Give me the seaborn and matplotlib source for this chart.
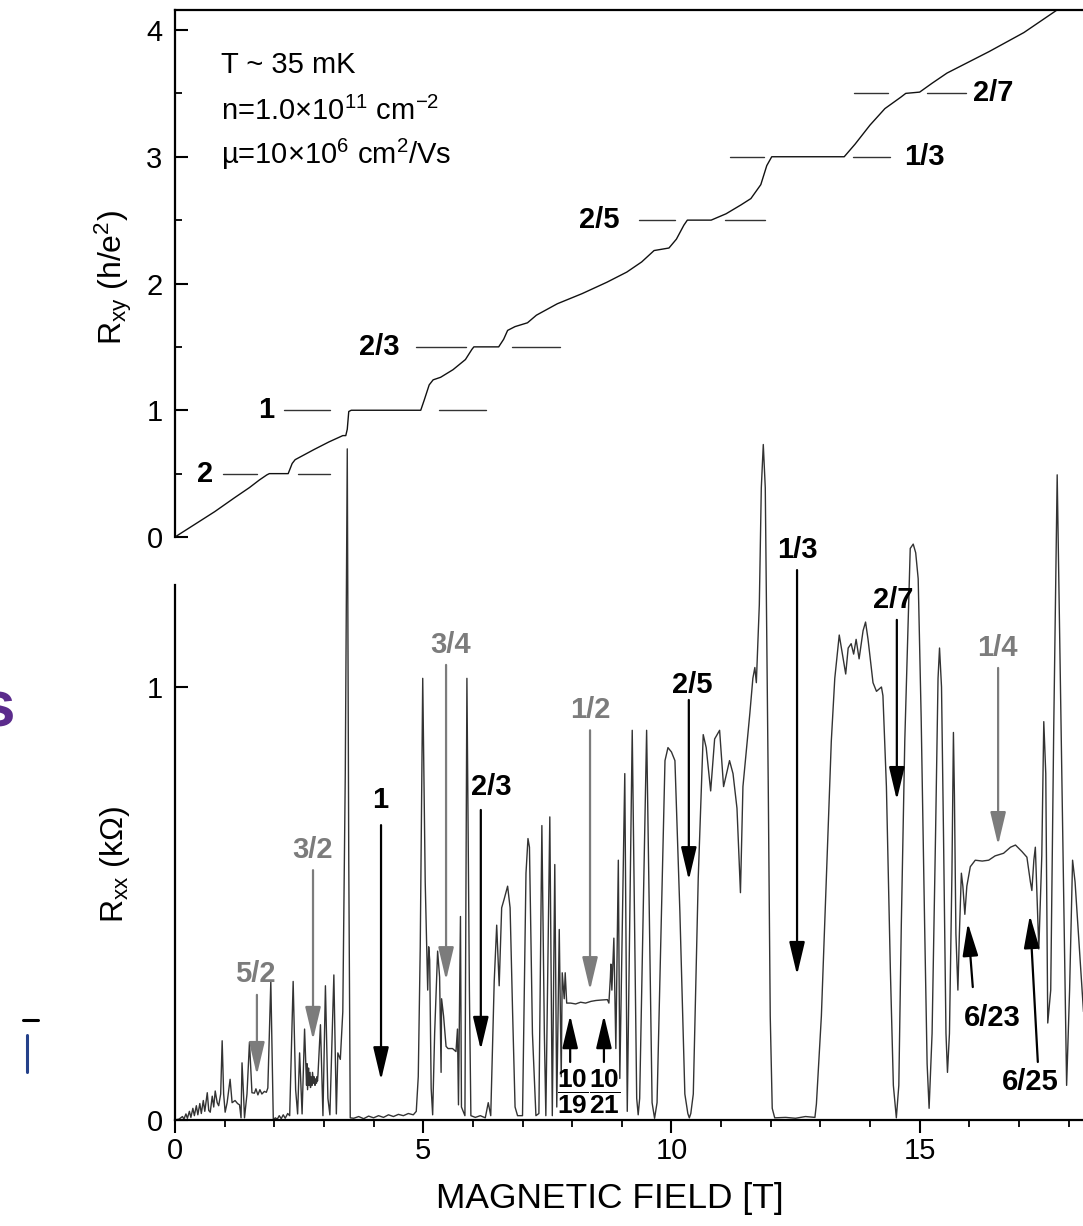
import numpy as np
import pandas as pd
import seaborn as sns
import matplotlib.pyplot as plt
from matplotlib.ticker import FixedLocator
from matplotlib.lines import Line2D

# --------------------------------------------------------------------------- #
# Data                                                    #
# --------------------------------------------------------------------------- #
# Hall resistance R_xy (h/e^2) vs field (T)
rxy_field = [0.00, 0.40, 0.80, 1.20, 1.50, 1.70, 1.85, 1.90, 2.28, 2.36, 2.42,
             2.80, 3.10, 3.38, 3.44, 3.47, 3.50, 3.55, 4.95, 5.02, 5.12, 5.20,
             5.35, 5.60, 5.85, 5.98, 6.02, 6.52, 6.62, 6.70, 6.85, 7.10, 7.28,
             7.70, 8.20, 8.70, 9.10, 9.40, 9.65, 9.95, 10.10, 10.25, 10.32,
             10.80, 11.10, 11.40, 11.60, 11.80, 11.92, 12.02, 13.48, 13.70,
             14.00, 14.30, 14.62, 14.72, 15.00, 15.25, 15.55, 16.00, 16.40,
             17.10, 17.70, 18.30]
rxy_value = [0.00, 0.10, 0.20, 0.31, 0.39, 0.45, 0.49, 0.50, 0.50, 0.58, 0.61,
             0.69, 0.75, 0.80, 0.80, 0.85, 0.99, 1.00, 1.00, 1.08, 1.20, 1.24,
             1.26, 1.32, 1.40, 1.48, 1.50, 1.50, 1.56, 1.63, 1.66, 1.69, 1.75,
             1.84, 1.92, 2.01, 2.09, 2.17, 2.26, 2.28, 2.35, 2.46, 2.50,
             2.50, 2.55, 2.62, 2.67, 2.78, 2.93, 3.00, 3.00, 3.10,
             3.25, 3.38, 3.47, 3.50, 3.51, 3.58, 3.66, 3.75, 3.83,
             3.98, 4.14, 4.30]

# Longitudinal resistance R_xx (kOhm) vs field (T)
rxx_field = [
    0.00, 0.08, 0.15, 0.18, 0.22, 0.25, 0.29, 0.32, 0.36, 0.39, 0.43, 0.46,
    0.50, 0.53, 0.57, 0.60, 0.65, 0.68, 0.71, 0.75, 0.78, 0.81, 0.85, 0.88,
    0.92, 0.95, 0.98, 1.01, 1.05, 1.11, 1.15, 1.21, 1.26, 1.30, 1.33, 1.35,
    1.38, 1.40, 1.45, 1.50, 1.55, 1.60, 1.63, 1.67, 1.71, 1.75, 1.80, 1.84,
    1.87, 1.93, 1.98, 2.02, 2.06, 2.10, 2.14, 2.18, 2.22, 2.27, 2.31, 2.38,
    2.43, 2.47, 2.51, 2.56, 2.61, 2.65, 2.66, 2.67, 2.69, 2.70, 2.72, 2.73,
    2.74, 2.76, 2.77, 2.79, 2.80, 2.82, 2.83, 2.85, 2.86, 2.87, 2.88, 2.93,
    2.98, 3.03, 3.08, 3.12, 3.20, 3.25, 3.28, 3.33, 3.38, 3.43, 3.47, 3.50,
    3.53, 3.60, 3.70, 3.80, 3.90, 4.00, 4.10, 4.20, 4.30, 4.40, 4.50, 4.60,
    4.70, 4.80, 4.86, 4.90, 4.94, 4.99, 5.04, 5.09, 5.11, 5.13, 5.16, 5.19,
    5.23, 5.29, 5.33, 5.36, 5.37, 5.41, 5.46, 5.50, 5.59, 5.66, 5.69, 5.71,
    5.75, 5.77, 5.84, 5.88, 5.93, 5.96, 6.05, 6.15, 6.25, 6.31, 6.36, 6.43,
    6.48, 6.53, 6.58, 6.63, 6.70, 6.75, 6.80, 6.85, 6.90, 7.00, 7.07, 7.11,
    7.14, 7.20, 7.27, 7.33, 7.39, 7.44, 7.47, 7.55, 7.60, 7.65, 7.69, 7.74,
    7.78, 7.80, 7.84, 7.86, 7.89, 7.97, 8.07, 8.17, 8.27, 8.38, 8.48, 8.58,
    8.71, 8.74, 8.77, 8.78, 8.80, 8.84, 8.88, 8.93, 8.96, 9.06, 9.11, 9.21,
    9.30, 9.33, 9.36, 9.50, 9.61, 9.66, 9.71, 9.87, 9.93, 10.00, 10.07,
    10.17, 10.27, 10.33, 10.36, 10.39, 10.44, 10.54, 10.64, 10.70, 10.79,
    10.87, 10.97, 11.05, 11.17, 11.24, 11.32, 11.39, 11.44, 11.58, 11.64,
    11.68, 11.71, 11.77, 11.81, 11.85, 11.89, 11.95, 11.99, 12.03, 12.08,
    12.30, 12.50, 12.70, 12.89, 12.92, 13.02, 13.12, 13.22, 13.29, 13.38,
    13.46, 13.51, 13.56, 13.62, 13.67, 13.72, 13.78, 13.86, 13.91, 13.96,
    14.06, 14.13, 14.23, 14.26, 14.33, 14.41, 14.47, 14.53, 14.58, 14.63,
    14.70, 14.77, 14.81, 14.87, 14.92, 14.97, 15.03, 15.10, 15.15, 15.19,
    15.25, 15.32, 15.37, 15.40, 15.44, 15.48, 15.53, 15.56, 15.60, 15.65,
    15.68, 15.70, 15.73, 15.77, 15.80, 15.84, 15.87, 15.91, 15.95, 16.02,
    16.12, 16.26, 16.39, 16.52, 16.69, 16.83, 16.93, 17.06, 17.16, 17.23,
    17.26, 17.30, 17.33, 17.40, 17.46, 17.50, 17.54, 17.58, 17.64, 17.70,
    17.77, 17.85, 17.96, 18.02, 18.08, 18.13, 18.30]
rxx_value = [
    0.000, 0.002, 0.008, 0.002, 0.014, 0.004, 0.020, 0.006, 0.027, 0.010, 0.033, 0.012,
    0.038, 0.015, 0.045, 0.020, 0.063, 0.022, 0.018, 0.055, 0.030, 0.067, 0.040, 0.033,
    0.060, 0.183, 0.060, 0.018, 0.040, 0.094, 0.040, 0.045, 0.038, 0.035, 0.005, 0.132,
    0.060, 0.005, 0.060, 0.180, 0.063, 0.062, 0.072, 0.058, 0.070, 0.060, 0.066, 0.064,
    0.074, 0.320, 0.000, 0.005, 0.002, 0.010, 0.003, 0.012, 0.004, 0.015, 0.010, 0.320,
    0.070, 0.014, 0.155, 0.014, 0.210, 0.080, 0.130, 0.070, 0.120, 0.080, 0.110, 0.075,
    0.100, 0.080, 0.110, 0.085, 0.100, 0.080, 0.095, 0.085, 0.100, 0.090, 0.105, 0.220,
    0.010, 0.310, 0.050, 0.012, 0.335, 0.014, 0.155, 0.140, 0.250, 0.800, 1.550, 0.600,
    0.005, 0.004, 0.008, 0.003, 0.009, 0.005, 0.010, 0.006, 0.012, 0.008, 0.013, 0.010,
    0.015, 0.012, 0.020, 0.100, 0.400, 1.020, 0.550, 0.300, 0.400, 0.370, 0.073, 0.012,
    0.200, 0.390, 0.330, 0.110, 0.280, 0.240, 0.170, 0.165, 0.165, 0.158, 0.210, 0.035,
    0.470, 0.030, 0.010, 1.020, 0.300, 0.010, 0.006, 0.010, 0.005, 0.040, 0.010, 0.320,
    0.450, 0.310, 0.490, 0.510, 0.540, 0.490, 0.250, 0.030, 0.010, 0.010, 0.570, 0.650,
    0.630, 0.200, 0.010, 0.015, 0.680, 0.200, 0.010, 0.700, 0.010, 0.590, 0.030, 0.440,
    0.100, 0.340, 0.280, 0.340, 0.270, 0.270, 0.268, 0.272, 0.270, 0.274, 0.276, 0.277,
    0.278, 0.270, 0.330, 0.360, 0.300, 0.420, 0.165, 0.600, 0.096, 0.800, 0.020, 0.900,
    0.050, 0.012, 0.050, 0.900, 0.040, 0.004, 0.040, 0.830, 0.860, 0.850, 0.830,
    0.480, 0.060, 0.015, 0.005, 0.015, 0.060, 0.560, 0.890, 0.860, 0.760,
    0.880, 0.900, 0.770, 0.830, 0.800, 0.720, 0.525, 0.770, 0.940, 1.020,
    1.045, 1.010, 1.190, 1.460, 1.560, 1.460, 0.770, 0.240, 0.027, 0.005,
    0.006, 0.004, 0.008, 0.006, 0.037, 0.240, 0.557, 0.875, 1.020, 1.120,
    1.065, 1.030, 1.090, 1.100, 1.076, 1.110, 1.065, 1.130, 1.150, 1.110,
    1.010, 0.990, 1.000, 0.980, 0.770, 0.345, 0.080, 0.005, 0.080, 0.450,
    0.875, 1.160, 1.320, 1.330, 1.310, 1.250, 0.930, 0.450, 0.130, 0.027,
    0.200, 0.660, 1.020, 1.090, 1.000, 0.660, 0.200, 0.110, 0.200, 0.570,
    0.895, 0.750, 0.430, 0.300, 0.430, 0.570, 0.540, 0.475, 0.540, 0.585,
    0.600, 0.598, 0.600, 0.610, 0.616, 0.630, 0.635, 0.620, 0.607, 0.550,
    0.530, 0.600, 0.630, 0.395, 0.610, 0.920, 0.800, 0.224, 0.300, 0.900,
    1.490, 0.900, 0.080, 0.300, 0.600, 0.550, 0.250]

# Rxy plateau guide marks: level, label, label field, left/right segments
plateau_level = [0.5, 1.0, 1.5, 2.5, 3.0, 3.5]
plateau_label = ['2', '1', '2/3', '2/5', '1/3', '2/7']
plateau_label_field = [0.60, 1.83, 4.11, 8.54, 15.09, 16.48]
plateau_left = [(0.97, 1.66), (2.20, 3.12), (4.85, 5.86), (9.35, 10.07), (11.18, 11.86), (13.68, 14.36)]
plateau_right = [(2.48, 3.12), (5.32, 6.26), (6.79, 7.75), (11.08, 11.88), (13.66, 14.40), (15.15, 15.93)]

# Rxx filling-factor arrows: label, label position, arrow tail -> tip, grey?
arrow_label = ['5/2', '3/2', '1', '3/4', '2/3', '1/2', '2/5', '1/3', '2/7', '1/4', '6/23', '6/25']
arrow_label_pos = [(1.61, 0.337), (2.78, 0.624), (4.13, 0.739), (5.56, 1.097), (6.38, 0.769),
                   (8.36, 0.947), (10.41, 1.005), (12.53, 1.316), (14.46, 1.200), (16.56, 1.090),
                   (16.46, 0.236), (17.22, 0.088)]
arrow_tail = [(1.65, 0.289), (2.78, 0.577), (4.15, 0.681), (5.46, 1.051), (6.16, 0.716),
              (8.36, 0.900), (10.35, 0.970), (12.53, 1.270), (14.54, 1.155), (16.58, 1.044),
              (16.07, 0.307), (17.38, 0.134)]
arrow_tip = [(1.65, 0.104), (2.78, 0.185), (4.15, 0.092), (5.46, 0.323), (6.16, 0.162),
             (8.36, 0.300), (10.35, 0.554), (12.53, 0.335), (14.54, 0.739), (16.58, 0.635),
             (15.97, 0.455), (17.22, 0.473)]
arrow_grey = [True, True, False, True, False, True, False, False, False, True, False, False]

# the two small up-arrows with stacked fractions
frac_num = ['10', '10']
frac_den = ['19', '21']
frac_field = [7.96, 8.64]
frac_label_field = [8.02, 8.66]

xy_ticks = [0, 1, 2, 3, 4]
xy_minor = [0.5, 1.5, 2.5, 3.5]
xx_ticks = [0, 1]
b_ticks = [0, 5, 10, 15]

# --------------------------------------------------------------------------- #
# Style                                                                       #
# --------------------------------------------------------------------------- #
sns.set_theme(style='ticks')
plt.rcParams['font.family'] = ['Liberation Sans', 'DejaVu Sans']
plt.rcParams['mathtext.fontset'] = 'custom'
plt.rcParams['mathtext.rm'] = 'Liberation Sans'
plt.rcParams['mathtext.it'] = 'Liberation Sans:italic'
plt.rcParams['mathtext.bf'] = 'Liberation Sans:bold'
plt.rcParams['axes.linewidth'] = 1.6
for key in ('text.color', 'axes.edgecolor', 'axes.labelcolor', 'xtick.color', 'ytick.color'):
    plt.rcParams[key] = 'black'

GREY = '#7c7c7c'
B_MAX = 18.29

fig = plt.figure(figsize=(10.83, 12.26), dpi=100)
pos = [175 / 1083, 1 - 1120 / 1226, 908 / 1083, 1110 / 1226]
ax_xx = fig.add_axes(pos)
ax_xy = fig.add_axes(pos)
ax_xy.patch.set_visible(False)

xx_df = pd.DataFrame({'B': rxx_field, 'R': rxx_value})
xy_df = pd.DataFrame({'B': rxy_field, 'R': rxy_value})

sns.lineplot(data=xx_df, x='B', y='R', ax=ax_xx, color='#333333', lw=1.0,
             sort=False, estimator=None)
sns.lineplot(data=xy_df, x='B', y='R', ax=ax_xy, color='#111111', lw=1.0,
             sort=False, estimator=None)

# --------------------------------------------------------------------------- #
# Axes                                                                        #
# --------------------------------------------------------------------------- #
for ax in (ax_xx, ax_xy):
    ax.set_xlim(0, B_MAX)
    ax.set_xlabel('')
    ax.set_ylabel('')
    ax.spines['right'].set_visible(False)

ax_xx.set_ylim(0, 2.5635)
ax_xy.set_ylim(-4.5996, 4.1578)

ax_xx.spines['top'].set_visible(False)
ax_xx.spines['left'].set_bounds(0, 1.2356)
ax_xy.spines['bottom'].set_visible(False)
ax_xy.spines['left'].set_bounds(0, 4.1578)

ax_xx.set_xticks(b_ticks)
ax_xx.xaxis.set_minor_locator(FixedLocator([b for b in range(1, 19) if b % 5]))
ax_xx.set_yticks(xx_ticks)
ax_xx.yaxis.set_minor_locator(FixedLocator([]))
ax_xx.tick_params(axis='x', which='major', direction='out', length=9.5, width=1.5,
                  labelsize=21, pad=3)
ax_xx.tick_params(axis='x', which='minor', direction='out', length=5, width=1.3)
ax_xx.tick_params(axis='y', which='major', direction='in', length=9.5, width=1.5,
                  labelsize=21, pad=9)

ax_xy.set_yticks(xy_ticks)
ax_xy.yaxis.set_minor_locator(FixedLocator(xy_minor))
ax_xy.tick_params(axis='x', which='both', bottom=False, top=False, labelbottom=False)
ax_xy.tick_params(axis='y', which='major', direction='in', length=9.5, width=1.5,
                  labelsize=21, pad=9)
ax_xy.tick_params(axis='y', which='minor', direction='in', length=5, width=1.3)

ax_xy.text(-0.068, 0.7586, r'R$_{\mathregular{xy}}$ (h/e$^{\mathregular{2}}$)',
           transform=ax_xy.transAxes, rotation=90, ha='center', va='center', fontsize=23)
ax_xx.text(-0.066, 0.2297, r'R$_{\mathregular{xx}}$ (k$\Omega$)',
           transform=ax_xx.transAxes, rotation=90, ha='center', va='center', fontsize=23)
ax_xx.text(0.479, -0.0703, 'MAGNETIC FIELD [T]', transform=ax_xx.transAxes,
           ha='center', va='center', fontsize=25.5)

# sample parameters
ax_xy.text(0.93, 3.66, 'T ~ 35 mK', fontsize=21, va='baseline')
ax_xy.text(0.93, 3.29, r'n=1.0$\times$10$^{\mathregular{11}}$ cm$^{\mathregular{-2}}$',
           fontsize=21, va='baseline')
ax_xy.text(0.93, 2.94, '\u00b5=10' + r'$\times$10$^{\mathregular{6}}$ cm$^{\mathregular{2}}$/Vs',
           fontsize=21, va='baseline')

# --------------------------------------------------------------------------- #
# Plateau guides on Rxy                                                       #
# --------------------------------------------------------------------------- #
for lev, lab, lx, left, right in zip(plateau_level, plateau_label, plateau_label_field,
                                     plateau_left, plateau_right):
    ax_xy.plot(left, [lev, lev], color='#333333', lw=1.0)
    ax_xy.plot(right, [lev, lev], color='#333333', lw=1.0)
    ax_xy.text(lx, lev, lab, fontsize=21, fontweight='bold', ha='center', va='center')

# --------------------------------------------------------------------------- #
# Arrows on Rxx                                                               #
# --------------------------------------------------------------------------- #
def draw_arrow(ax, tail, tip, color):
    ax.annotate('', xy=tip, xytext=tail,
                arrowprops=dict(arrowstyle='-|>,head_length=1.35,head_width=0.32',
                                color=color, lw=1.6, shrinkA=0, shrinkB=0,
                                mutation_scale=15))


for lab, lpos, tail, tip, grey in zip(arrow_label, arrow_label_pos, arrow_tail,
                                      arrow_tip, arrow_grey):
    c = GREY if grey else 'black'
    draw_arrow(ax_xx, tail, tip, c)
    ax_xx.text(lpos[0], lpos[1], lab, fontsize=21, fontweight='bold', color=c,
               ha='center', va='center')

for num, den, bx, lx in zip(frac_num, frac_den, frac_field, frac_label_field):
    draw_arrow(ax_xx, (bx, 0.134), (bx, 0.242), 'black')
    ax_xx.text(lx, 0.066, r'$\dfrac{\mathbf{%s}}{\mathbf{%s}}$' % (num, den),
               fontsize=19, ha='center', va='center')

# bits of the surrounding slide that were cut into the crop
fig.text(-0.019, 0.421, 's', fontsize=46, fontweight='bold', color='#5b2b8c',
         ha='left', va='center')
fig.add_artist(Line2D([23 / 1083, 38 / 1083], [1 - 1020 / 1226] * 2, color='black', lw=2.2))
fig.add_artist(Line2D([27 / 1083] * 2, [1 - 1035 / 1226, 1 - 1072 / 1226],
                      color='#24418a', lw=2.2))

fig.savefig('out.png', dpi=100, facecolor='white')
